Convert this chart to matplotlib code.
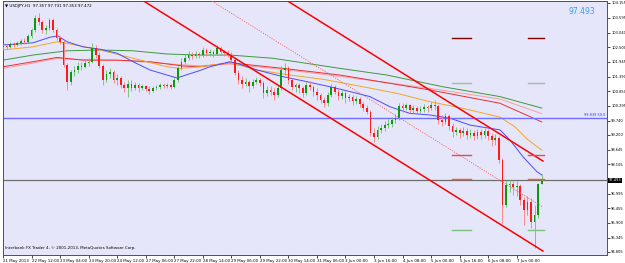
import matplotlib
matplotlib.use("Agg")
import matplotlib.pyplot as plt

# USDJPY H1 candles, one candle per two hourly bars (prices)
bar_idx = list(range(0, 303, 2))

opens = [
    102.50, 102.54, 102.50, 102.62, 102.58, 102.65, 102.73, 102.69, 102.92, 103.14,
    103.59, 103.44, 103.14, 103.22, 103.52, 103.14, 102.84, 102.69, 101.83, 101.19,
    101.56, 101.64, 101.79, 101.75, 101.90, 101.94, 102.47, 102.20, 101.79, 101.26,
    101.49, 101.56, 101.26, 101.34, 101.08, 100.96, 101.11, 100.96, 101.08, 100.96,
    101.04, 100.93, 100.85, 100.96, 101.00, 101.08, 101.04, 101.08, 101.00, 101.26,
    101.71, 101.94, 102.09, 102.20, 102.16, 102.24, 102.20, 102.39, 102.28, 102.32,
    102.24, 102.47, 102.32, 102.28, 102.20, 102.01, 101.53, 101.26, 101.11, 101.19,
    101.04, 101.19, 101.26, 101.15, 100.78, 100.89, 100.81, 100.70, 100.96, 101.64,
    101.71, 101.26, 101.00, 101.08, 100.96, 100.78, 101.08, 101.00, 100.81, 100.70,
    100.51, 100.40, 100.70, 101.00, 100.81, 100.66, 100.78, 100.59, 100.63, 100.47,
    100.55, 100.36, 100.21, 100.06, 99.27, 99.12, 99.39, 99.46, 99.57, 99.61,
    99.76, 99.84, 100.29, 100.21, 100.32, 100.14, 100.21, 100.10, 100.17, 100.25,
    100.21, 100.32, 100.29, 99.76, 99.69, 99.91, 99.54, 99.31, 99.39, 99.27,
    99.35, 99.20, 99.27, 99.16, 99.31, 99.20, 99.35, 99.16, 99.01, 99.09,
    98.26, 96.57, 97.32, 97.36, 97.25, 97.28, 96.76, 96.38, 96.68, 95.93, 96.19, 97.357,
]
highs = [
    102.62, 102.62, 102.69, 102.69, 102.73, 102.80, 102.84, 102.99, 103.22, 103.70,
    103.78, 103.52, 103.33, 103.59, 103.59, 103.22, 102.92, 102.77, 101.90, 101.64,
    101.79, 101.94, 101.94, 102.01, 102.09, 102.65, 102.58, 102.32, 101.86, 101.64,
    101.71, 101.64, 101.49, 101.41, 101.19, 101.26, 101.26, 101.19, 101.15, 101.11,
    101.08, 101.04, 101.04, 101.08, 101.15, 101.15, 101.15, 101.11, 101.34, 101.79,
    102.09, 102.24, 102.35, 102.32, 102.35, 102.32, 102.50, 102.47, 102.43, 102.39,
    102.58, 102.54, 102.39, 102.39, 102.32, 102.09, 101.64, 101.41, 101.34, 101.26,
    101.30, 101.38, 101.34, 101.23, 101.04, 101.04, 100.96, 101.08, 101.79, 101.90,
    101.79, 101.34, 101.15, 101.15, 101.04, 101.19, 101.23, 101.08, 100.96, 100.78,
    100.63, 100.81, 101.11, 101.08, 100.93, 100.89, 100.85, 100.74, 100.70, 100.66,
    100.63, 100.44, 100.32, 100.14, 99.46, 99.54, 99.61, 99.72, 99.80, 99.87,
    99.99, 100.40, 100.40, 100.40, 100.36, 100.32, 100.29, 100.29, 100.36, 100.32,
    100.44, 100.51, 100.36, 99.95, 100.02, 99.99, 99.65, 99.50, 99.46, 99.50,
    99.46, 99.42, 99.39, 99.42, 99.42, 99.46, 99.42, 99.27, 99.24, 99.16,
    98.33, 97.51, 97.51, 97.51, 97.47, 97.36, 96.87, 96.91, 96.83, 96.57, 97.40, 97.731,
]
lows = [
    102.39, 102.43, 102.47, 102.50, 102.54, 102.58, 102.62, 102.65, 102.84, 103.07,
    103.33, 103.03, 102.99, 103.14, 103.07, 102.77, 102.62, 101.75, 100.89, 101.08,
    101.41, 101.53, 101.64, 101.71, 101.79, 101.90, 102.09, 101.71, 101.08, 101.19,
    101.34, 101.15, 101.08, 100.96, 100.81, 100.63, 100.85, 100.89, 100.81, 100.89,
    100.85, 100.74, 100.81, 100.89, 100.93, 100.96, 100.96, 100.93, 100.96, 101.19,
    101.64, 101.86, 102.01, 102.05, 102.09, 102.09, 102.13, 102.16, 102.16, 102.13,
    102.20, 102.24, 102.16, 102.13, 101.94, 101.45, 101.11, 100.96, 101.04, 100.81,
    100.96, 101.11, 101.04, 100.59, 100.66, 100.70, 100.51, 100.63, 100.89, 101.45,
    101.11, 100.89, 100.81, 100.78, 100.63, 100.70, 100.89, 100.66, 100.51, 100.40,
    100.25, 100.29, 100.63, 100.74, 100.51, 100.55, 100.40, 100.47, 100.32, 100.36,
    100.25, 100.10, 99.99, 99.16, 98.94, 99.05, 99.27, 99.35, 99.46, 99.50,
    99.65, 99.76, 100.06, 100.14, 100.02, 100.02, 99.99, 100.02, 100.06, 100.06,
    100.14, 100.14, 99.61, 99.54, 99.61, 99.39, 99.12, 99.20, 99.09, 99.16,
    99.05, 99.09, 99.01, 99.05, 99.05, 99.09, 99.01, 98.79, 98.82, 98.15,
    95.89, 96.49, 97.06, 96.95, 96.91, 96.57, 95.82, 96.19, 95.71, 94.95, 96.08, 97.353,
]
closes = [
    102.54, 102.50, 102.62, 102.58, 102.65, 102.73, 102.69, 102.92, 103.14, 103.59,
    103.44, 103.14, 103.22, 103.52, 103.14, 102.84, 102.69, 101.83, 101.19, 101.56,
    101.64, 101.79, 101.75, 101.90, 101.94, 102.47, 102.20, 101.79, 101.26, 101.49,
    101.56, 101.26, 101.34, 101.08, 100.96, 101.11, 100.96, 101.08, 100.96, 101.04,
    100.93, 100.85, 100.96, 101.00, 101.08, 101.04, 101.08, 101.00, 101.26, 101.71,
    101.94, 102.09, 102.20, 102.16, 102.24, 102.20, 102.39, 102.28, 102.32, 102.24,
    102.47, 102.32, 102.28, 102.20, 102.01, 101.53, 101.26, 101.11, 101.19, 101.04,
    101.19, 101.26, 101.15, 100.78, 100.89, 100.81, 100.70, 100.96, 101.64, 101.71,
    101.26, 101.00, 101.08, 100.96, 100.78, 101.08, 101.00, 100.81, 100.70, 100.51,
    100.40, 100.70, 101.00, 100.81, 100.66, 100.78, 100.59, 100.63, 100.47, 100.55,
    100.36, 100.21, 100.06, 99.27, 99.12, 99.39, 99.46, 99.57, 99.61, 99.76,
    99.84, 100.29, 100.21, 100.32, 100.14, 100.21, 100.10, 100.17, 100.25, 100.21,
    100.32, 100.29, 99.76, 99.69, 99.91, 99.54, 99.31, 99.39, 99.27, 99.35,
    99.20, 99.27, 99.16, 99.31, 99.20, 99.35, 99.16, 99.01, 99.09, 98.26,
    96.57, 97.32, 97.36, 97.25, 97.28, 96.76, 96.38, 96.68, 95.93, 96.19, 97.36, 97.472,
]

# moving averages, read at a few bars each
blue_x = [0, 16.8, 26.3, 30.8, 35.9, 44.8, 54.4, 63.9, 72.9, 82.4, 91.9, 97.5, 104.8, 110.4, 116.0,
          127.2, 131.2, 142.4, 156.9, 170.4, 183.2, 194.5, 205.7, 216.9, 228.1, 239.3, 250.6,
          261.8, 273.0, 278.6, 284.2, 291.5, 299.3, 302.0]
blue_y = [102.58, 102.66, 102.87, 102.92, 102.70, 102.51, 102.42, 102.27, 101.95, 101.64, 101.45,
          101.34, 101.50, 101.62, 101.76, 101.95, 101.89, 101.64, 101.39, 101.20, 101.01, 100.83,
          100.64, 100.26, 100.01, 99.95, 99.83, 99.57, 99.45, 99.39, 99.01, 98.38, 97.82, 97.70]
orange_x = [0, 16.8, 30.3, 35.9, 54.4, 72.9, 91.9, 99.2, 110.4, 127.2, 142.4, 160.9, 179.4, 201.8,
            220.9, 239.3, 257.8, 278.6, 287.1, 293.7, 302.0]
orange_y = [102.39, 102.51, 102.70, 102.64, 102.39, 102.08, 101.76, 101.70, 101.76, 101.91, 101.64,
            101.45, 101.29, 101.01, 100.76, 100.45, 100.20, 99.87, 99.50, 99.05, 98.63]
red_x = [0, 16.8, 30.3, 44.8, 63.9, 82.4, 100.9, 110.4, 127.2, 156.9, 188.9, 239.3, 278.6, 302.0]
red_y = [101.76, 101.95, 102.11, 102.01, 102.01, 101.95, 101.79, 101.76, 101.91, 101.70, 101.45,
         100.89, 100.39, 99.69]
pink_y = [101.70, 101.90, 102.07, 102.03, 102.00, 101.93, 101.83, 101.80, 101.86, 101.66, 101.40,
          100.95, 100.55, 100.00]
green_x = [0, 16.8, 35.9, 54.4, 72.9, 91.9, 110.4, 127.2, 151.3, 188.9, 215.2, 246.6, 278.6, 302.0]
green_y = [102.01, 102.20, 102.36, 102.39, 102.36, 102.24, 102.20, 102.20, 102.08, 101.70, 101.45,
           101.01, 100.64, 100.21]

# trend channel (bar, price) end points
chan_upper = ([158.6, 302.7], [104.27, 98.22])
chan_mid = ([116.0, 302.7], [104.27, 96.49])
chan_lower = ([77.9, 302.7], [104.27, 94.84])

# short pivot dashes
level_prices = [102.83, 101.15, 98.44, 97.55, 95.63]
level_colors = ['#8b0000', '#9fbf9f', '#e05050', '#ff5a1e', '#7fbf7f']
level_spans = [(251.7, 262.3), (294.1, 303.4)]

fib_price = 99.839
bid = 97.493

price_ticks = [104.155, 103.595, 103.040, 102.500, 101.945, 101.390, 100.850, 100.295, 99.740,
               99.200, 98.645, 98.105, 96.995, 96.455, 95.900, 95.345, 94.805]
date_ticks = list(range(0, 289, 16))
date_labels = ['21 May 2013', '22 May 12:00', '23 May 04:00', '23 May 20:00', '24 May 12:00',
               '27 May 06:00', '27 May 22:00', '28 May 14:00', '29 May 06:00', '29 May 22:00',
               '30 May 14:00', '31 May 06:00', '3 Jun 00:00', '3 Jun 16:00', '4 Jun 08:00',
               '5 Jun 00:00', '5 Jun 16:00', '6 Jun 08:00', '7 Jun 00:00']

fig = plt.figure(figsize=(6.25, 2.63), dpi=100)
ax = fig.add_axes([3 / 625, 8 / 263, 604 / 625, 254 / 263])
ax.set_facecolor('#e6e6fa')
ax.set_xlim(0, 338.6)
ax.set_ylim(94.692, 104.23)

# moving averages behind the candles
ax.plot(green_x, green_y, color='#3c9a3c', lw=0.7)
ax.plot(red_x, pink_y, color='#ff9c9c', lw=0.7)
ax.plot(red_x, red_y, color='#e83030', lw=0.7)
ax.plot(orange_x, orange_y, color='#f5a623', lw=0.7)
ax.plot(blue_x, blue_y, color='#4a4aff', lw=0.7)

ax.axhline(fib_price, color='#6f6fff', lw=1.0)
ax.axhline(bid, color='#6e6e6e', lw=0.9)

for px, o, h, l, c in zip(bar_idx, opens, highs, lows, closes):
    up = c >= o
    ax.vlines(px, l, h, color='#66c266' if up else '#ff7a7a', lw=0.6, zorder=3)
ups = [c >= o for o, c in zip(opens, closes)]
ax.bar(bar_idx, [max(abs(c - o), 0.015) for o, c in zip(opens, closes)],
       bottom=[min(o, c) for o, c in zip(opens, closes)], width=0.95,
       color=['#0a9a0a' if u else '#ff1a1a' for u in ups], lw=0, zorder=4)

ax.plot(*chan_upper, color='#ff0000', lw=1.1, zorder=5)
ax.plot(*chan_lower, color='#ff0000', lw=1.1, zorder=5)
ax.plot(*chan_mid, color='#ff6060', lw=0.6, ls=(0, (1.5, 1.5)), zorder=5)

for p, col in zip(level_prices, level_colors):
    for x0, x1 in level_spans:
        ax.plot([x0, x1], [p, p], color=col, lw=1.0, zorder=5)

# axes styling
for s in ax.spines.values():
    s.set_color('#505050')
    s.set_linewidth(0.7)
ax.yaxis.tick_right()
ax.set_yticks(price_ticks)
ax.set_yticklabels(['%.3f' % v for v in price_ticks])
ax.tick_params(axis='y', labelsize=2.6, length=2, width=0.5, pad=1)
ax.set_xticks(date_ticks)
ax.set_xticklabels(date_labels)
ax.tick_params(axis='x', labelsize=2.9, length=2, width=0.5, pad=0.8)
for lbl in ax.get_xticklabels():
    lbl.set_horizontalalignment('left')

yt = ax.get_yaxis_transform()
ax.text(1.003, bid, '97.493', transform=yt, fontsize=2.6, color='white', va='center', ha='left',
        bbox=dict(facecolor='black', edgecolor='none', pad=0.5), zorder=10, clip_on=False)
ax.text(0.997, fib_price + 0.05, '99.839 50.0', transform=yt, fontsize=2.5, color='#3030ff',
        ha='right', va='bottom')

ax.text(0.004, 0.988, '\u25bc USDJPY,H1  97.357 97.731 97.353 97.472', transform=ax.transAxes,
        fontsize=2.9, va='top', ha='left', color='black')
ax.text(0.937, 0.957, '97.493', transform=ax.transAxes, fontsize=5.5, color='#3d9be9',
        va='center', ha='left')
ax.text(0.004, 0.02, 'Interbank FX Trader 4, \u00a9 2001-2013, MetaQuotes Software Corp.',
        transform=ax.transAxes, fontsize=2.9, va='bottom', ha='left', color='black')

fig.savefig('out.png', dpi=100, facecolor='white')
